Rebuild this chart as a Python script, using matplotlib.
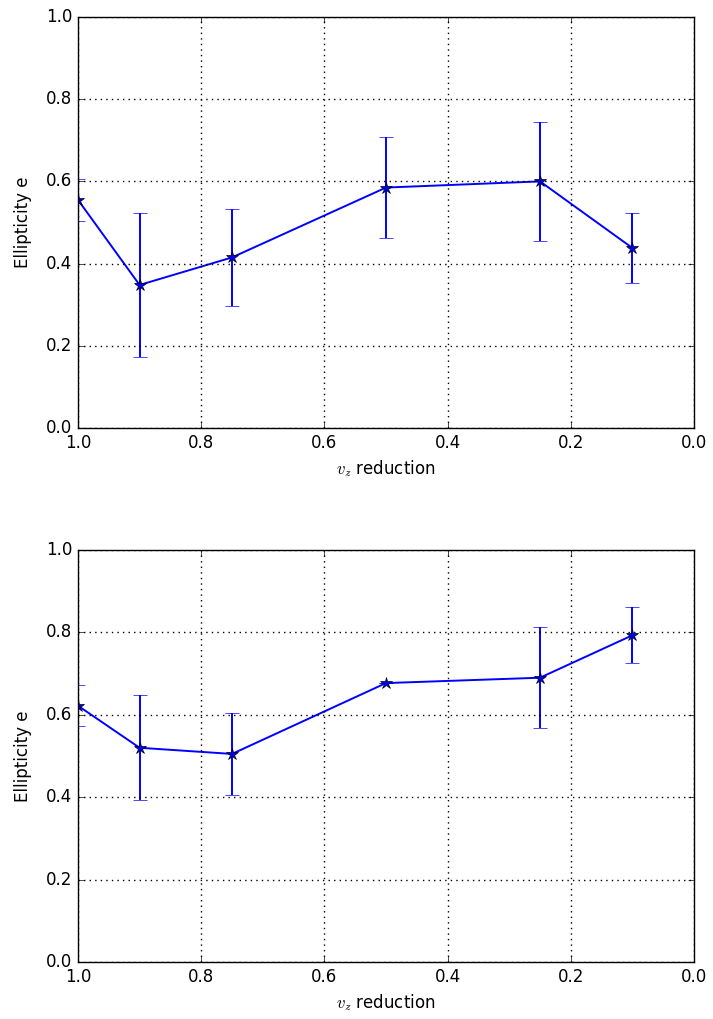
import matplotlib
matplotlib.use("Agg")
import matplotlib.pyplot as plt

plt.style.use("classic")
plt.rcParams["figure.facecolor"] = "white"
plt.rcParams["savefig.facecolor"] = "white"

# vz reduction values
vz = [1.0, 0.9, 0.75, 0.5, 0.25, 0.1]

# top panel
ell_top = [0.555, 0.348, 0.415, 0.585, 0.600, 0.438]
err_top = [0.051, 0.176, 0.117, 0.122, 0.145, 0.085]

# bottom panel
ell_bot = [0.622, 0.520, 0.505, 0.677, 0.690, 0.793]
err_bot = [0.050, 0.127, 0.100, 0.0, 0.122, 0.068]

fig = plt.figure(figsize=(7.13, 10.19), dpi=100)
ax1 = fig.add_axes([78 / 713, 1 - 428 / 1019, 616 / 713, 411 / 1019])
ax2 = fig.add_axes([78 / 713, 1 - 962 / 1019, 616 / 713, 412 / 1019])

for ax, y, e in [(ax1, ell_top, err_top), (ax2, ell_bot, err_bot)]:
    ax.errorbar(vz, y, yerr=e, color="b", ecolor="b", capsize=5,
                marker="*", markersize=9, markerfacecolor="b",
                markeredgecolor="k", linewidth=1.4, elinewidth=1.4)
    ax.set_xlim(1.0, 0.0)
    ax.set_ylim(0.0, 1.0)
    ax.set_xticks([1.0, 0.8, 0.6, 0.4, 0.2, 0.0])
    ax.set_yticks([0.0, 0.2, 0.4, 0.6, 0.8, 1.0])
    ax.grid(True, linestyle=(0, (1, 3)), color="k", linewidth=1.0)
    ax.set_xlabel(r"$v_z$ reduction")
    ax.set_ylabel("Ellipticity e", labelpad=10)

fig.savefig("out.png", dpi=100)
